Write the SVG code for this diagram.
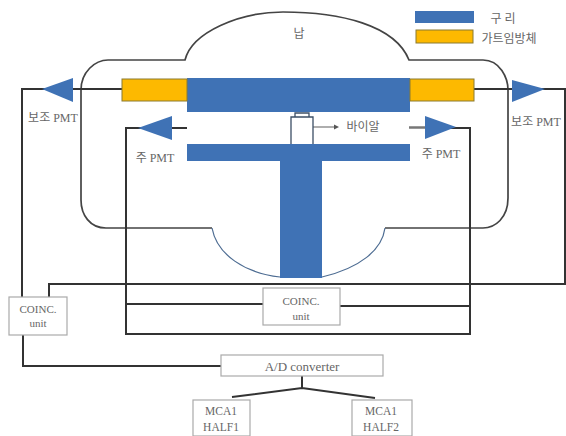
<svg xmlns="http://www.w3.org/2000/svg" width="566" height="436" viewBox="0 0 566 436">
<style>
text{font-family:"Liberation Serif","Noto Sans CJK KR",serif;font-size:12px;fill:#666;text-anchor:middle}
.blue{fill:#3f72b5}
.gold{fill:#fdb900;stroke:#8a7a30;stroke-width:1}
.line{fill:none;stroke:#333;stroke-width:2}
.thin{fill:none;stroke:#444;stroke-width:1.7}
.arc{fill:none;stroke:#4d6c92;stroke-width:1.2}
.box{fill:#fff;stroke:#aaa;stroke-width:1.2}
</style>
<rect width="566" height="436" fill="#fff"/>
<g id="legend">
<rect class="blue" x="415" y="11" width="59" height="12"/>
<rect class="gold" x="416" y="30" width="57" height="13"/>
<text x="503" y="23">구 리</text>
<text x="509" y="43">가트임방체</text>
</g>
<g id="shield">
<path class="thin" d="M212 228H106C90 228 81 215 81 200V90C81 72 95 60 108 60H185C192 32 240 12 283 12C340 12 395 25 409 60H483C500 60 508 78 508 90V198C508 218 495 228 483 228H385"/>
<path class="arc" d="M212 228C217 255 245 273 280 277M385 228C382 250 360 268 322 277"/>
<text x="299" y="38">납</text>
</g>
<g id="connectors">
<path class="line" d="M122 89H22V297M23 335V366H221M187 128H126V334H470V128H425M49 297V284H565V89H474M126 304H263M340 306H470M302 376V388M232 397L302 388L375 398"/>
<path d="M409 127.500H425" fill="none" stroke="#777" stroke-width="2.500"/>
<path d="M313 127H335" fill="none" stroke="#777" stroke-width="1.200"/>
</g>
<g id="copper">
<path class="blue" d="M187 78H410V112H187ZM187 144H410V161H322V278H280V161H187Z"/>
</g>
<g id="gold-left"><rect class="gold" x="122" y="79" width="65" height="22"/></g>
<g id="gold-right"><rect class="gold" x="410" y="79" width="64" height="22"/></g>
<g id="vial">
<path d="M291 144V117H313V144M295 117V113H309V117" fill="#fff" stroke="#3c4f66" stroke-width="1.300"/>
<path d="M334 124.500L339 127L334 129.500Z" fill="#555"/>
<text x="363" y="131">바이알</text>
</g>
<g id="pmt-aux-left"><path class="blue" d="M42 89L73 78V102Z"/><text x="53" y="122">보조 PMT</text></g>
<g id="pmt-main-left"><path class="blue" d="M138 128L172 116V140Z"/><text x="155" y="162">주 PMT</text></g>
<g id="pmt-main-right"><path class="blue" d="M425 116L456 127L425 139Z"/><text x="441" y="158">주 PMT</text></g>
<g id="pmt-aux-right"><path class="blue" d="M512 80L545 89L512 102Z"/><text x="536" y="126">보조 PMT</text></g>
<g id="coinc-left"><rect class="box" x="9" y="297" width="58" height="38"/><text x="38" y="313" style="font-size:11px">COINC.</text><text x="38" y="327" style="font-size:11px">unit</text></g>
<g id="coinc-center"><rect class="box" x="263" y="288" width="77" height="37"/><text x="301" y="305" style="font-size:11px">COINC.</text><text x="301" y="320" style="font-size:11px">unit</text></g>
<g id="adc"><rect class="box" x="221" y="355" width="162" height="21"/><text x="302" y="371" style="font-size:13px">A/D converter</text></g>
<g id="mca1"><rect class="box" x="193" y="400" width="57" height="36"/><text x="221" y="415" style="font-size:11.500px">MCA1</text><text x="221" y="431" style="font-size:11.500px">HALF1</text></g>
<g id="mca2"><rect class="box" x="352" y="400" width="60" height="36"/><text x="381" y="415" style="font-size:11.500px">MCA1</text><text x="381" y="431" style="font-size:11.500px">HALF2</text></g>
</svg>
